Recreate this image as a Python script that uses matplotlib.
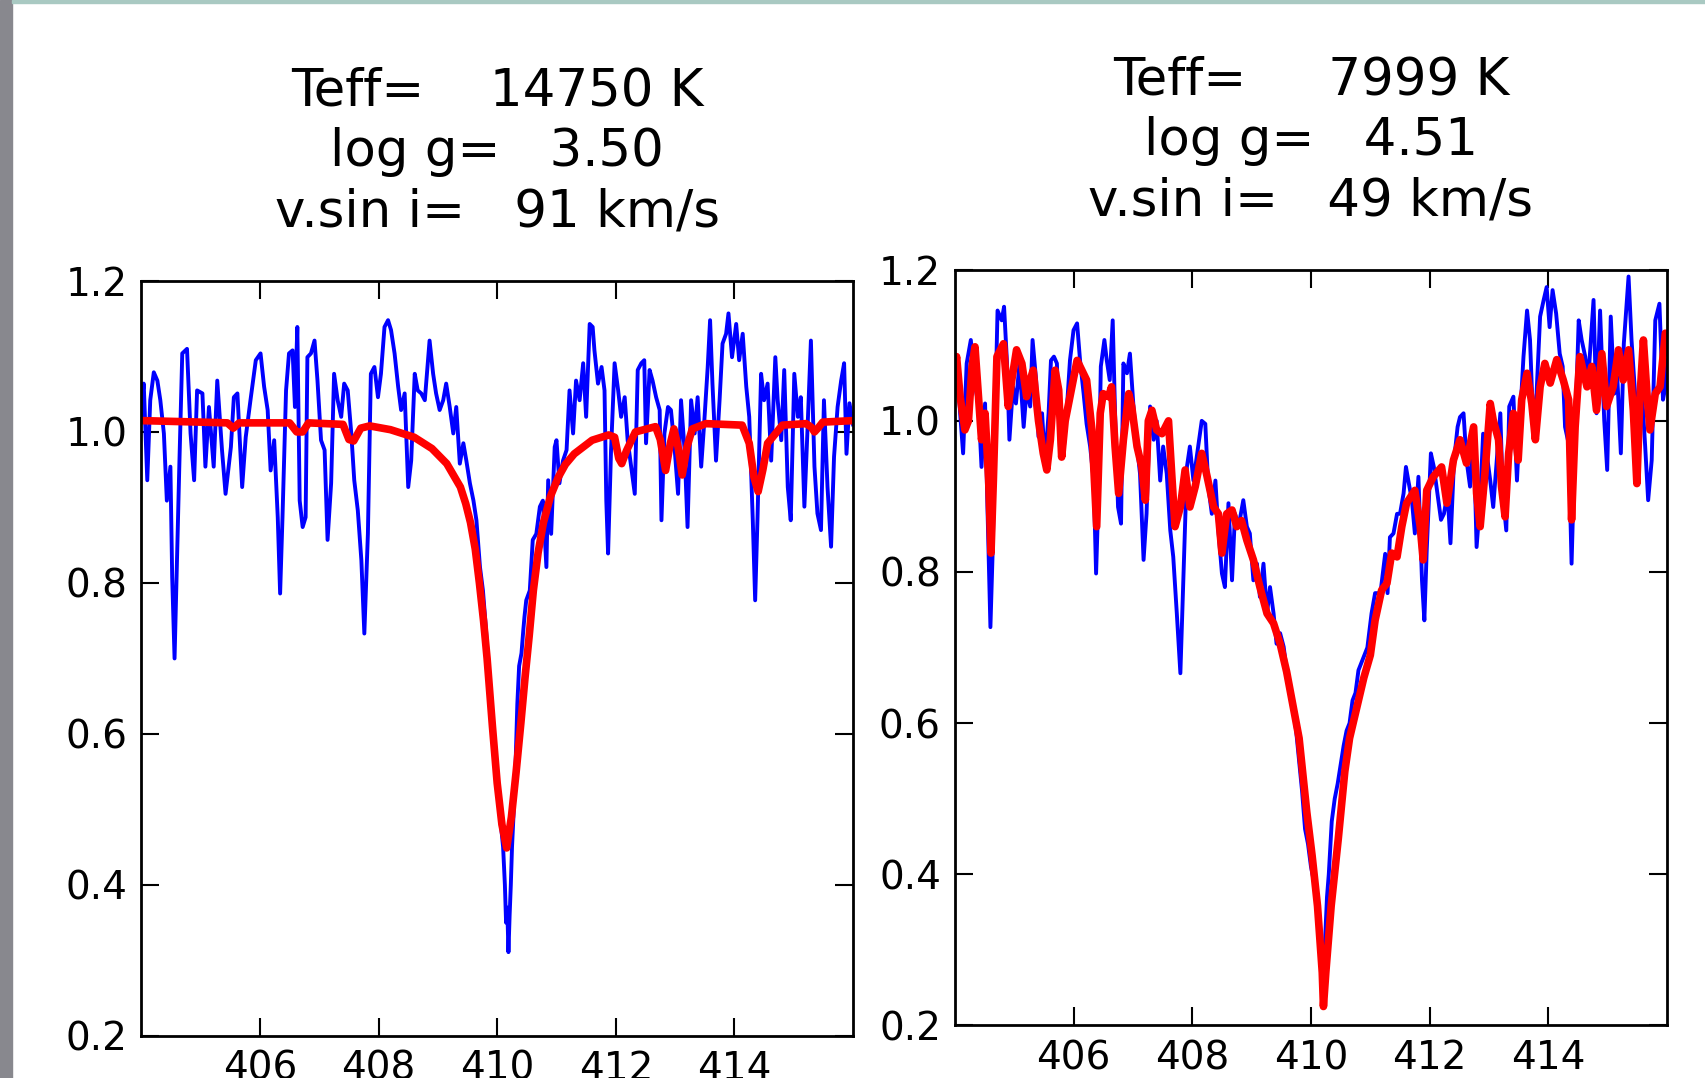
import matplotlib
matplotlib.use("Agg")
import matplotlib.pyplot as plt
from matplotlib.patches import Rectangle
from matplotlib.ticker import FormatStrFormatter

# left star: observed spectrum (wavelength nm, normalised flux)
obs_left = [
    (404.00, 1.020), (404.01, 1.042), (404.04, 1.064), (404.10, 0.936), (404.15, 1.042),
    (404.21, 1.079), (404.27, 1.068), (404.32, 1.042), (404.38, 0.998), (404.43, 0.909),
    (404.49, 0.954), (404.52, 0.808), (404.56, 0.700), (404.60, 0.830), (404.64, 0.954),
    (404.69, 1.104), (404.77, 1.110), (404.83, 0.998), (404.89, 0.936), (404.94, 1.055),
    (405.03, 1.051), (405.08, 0.954), (405.14, 1.033), (405.22, 0.954), (405.28, 1.068),
    (405.36, 0.976), (405.42, 0.918), (405.51, 0.980), (405.56, 1.046), (405.62, 1.051),
    (405.70, 0.927), (405.76, 0.993), (405.84, 1.042), (405.93, 1.095), (406.01, 1.104),
    (406.07, 1.060), (406.13, 1.029), (406.18, 0.949), (406.24, 0.989), (406.30, 0.887),
    (406.34, 0.786), (406.38, 0.887), (406.44, 1.055), (406.49, 1.104), (406.55, 1.108),
    (406.59, 1.033), (406.63, 1.139), (406.67, 0.909), (406.72, 0.874), (406.77, 0.887),
    (406.80, 1.099), (406.86, 1.104), (406.92, 1.121), (406.97, 1.068), (407.03, 0.989),
    (407.09, 0.976), (407.14, 0.857), (407.20, 0.932), (407.25, 1.077), (407.31, 1.042),
    (407.37, 1.020), (407.42, 1.064), (407.48, 1.055), (407.54, 0.998), (407.59, 0.936),
    (407.65, 0.896), (407.71, 0.830), (407.76, 0.733), (407.82, 0.865), (407.87, 1.077),
    (407.93, 1.086), (407.99, 1.046), (408.04, 1.077), (408.10, 1.139), (408.16, 1.148),
    (408.21, 1.135), (408.27, 1.104), (408.33, 1.060), (408.38, 1.029), (408.44, 1.051),
    (408.50, 0.927), (408.55, 0.962), (408.61, 1.077), (408.66, 1.055), (408.72, 1.051),
    (408.78, 1.042), (408.86, 1.121), (408.92, 1.077), (408.97, 1.051), (409.03, 1.029),
    (409.09, 1.042), (409.14, 1.064), (409.20, 1.033), (409.26, 0.998), (409.31, 1.033),
    (409.37, 0.958), (409.43, 0.985), (409.48, 0.962), (409.54, 0.932), (409.60, 0.909),
    (409.65, 0.883), (409.71, 0.821), (409.76, 0.790), (409.81, 0.740), (409.86, 0.680),
    (409.90, 0.620), (409.95, 0.570), (410.00, 0.530), (410.05, 0.490), (410.10, 0.450),
    (410.13, 0.400), (410.15, 0.350), (410.17, 0.370), (410.19, 0.311), (410.21, 0.360),
    (410.23, 0.400), (410.25, 0.450), (410.28, 0.500), (410.31, 0.560), (410.34, 0.640),
    (410.37, 0.690), (410.41, 0.707), (410.44, 0.737), (410.46, 0.755), (410.49, 0.777),
    (410.55, 0.790), (410.60, 0.857), (410.66, 0.865), (410.72, 0.901), (410.77, 0.909),
    (410.83, 0.821), (410.86, 0.936), (410.91, 0.865), (410.97, 0.980), (411.00, 0.989),
    (411.05, 0.932), (411.11, 0.962), (411.17, 0.976), (411.22, 1.055), (411.28, 0.998),
    (411.33, 1.068), (411.39, 1.042), (411.45, 1.091), (411.50, 1.020), (411.56, 1.143),
    (411.61, 1.139), (411.64, 1.108), (411.70, 1.064), (411.76, 1.086), (411.81, 1.055),
    (411.84, 0.909), (411.87, 0.839), (411.92, 0.976), (411.98, 1.091), (412.04, 1.055),
    (412.09, 1.020), (412.15, 1.046), (412.20, 0.989), (412.26, 0.954), (412.32, 0.918),
    (412.37, 1.082), (412.43, 1.091), (412.48, 1.095), (412.51, 0.985), (412.57, 1.082),
    (412.62, 1.068), (412.68, 1.046), (412.74, 1.029), (412.77, 0.883), (412.82, 0.998),
    (412.88, 1.033), (412.93, 1.029), (412.99, 0.980), (413.05, 0.918), (413.10, 1.042),
    (413.16, 0.976), (413.21, 0.874), (413.27, 1.042), (413.33, 0.998), (413.38, 1.046),
    (413.44, 0.954), (413.49, 1.011), (413.55, 1.086), (413.59, 1.148), (413.63, 1.064),
    (413.69, 0.962), (413.75, 1.042), (413.80, 1.117), (413.86, 1.130), (413.90, 1.157),
    (413.96, 1.099), (414.03, 1.143), (414.08, 1.095), (414.14, 1.130), (414.20, 1.060),
    (414.25, 1.020), (414.31, 0.883), (414.35, 0.777), (414.39, 0.887), (414.45, 1.077),
    (414.50, 1.042), (414.56, 1.064), (414.62, 0.962), (414.69, 1.099), (414.73, 1.042),
    (414.79, 0.989), (414.84, 1.082), (414.90, 0.927), (414.95, 0.883), (415.01, 1.077),
    (415.07, 1.020), (415.12, 1.046), (415.18, 0.901), (415.23, 0.998), (415.29, 1.121),
    (415.35, 0.954), (415.40, 0.892), (415.46, 0.870), (415.51, 1.042), (415.57, 0.927),
    (415.63, 0.848), (415.68, 0.967), (415.74, 1.033), (415.80, 1.068), (415.85, 1.091),
    (415.89, 0.971), (415.94, 1.038), (416.00, 1.010),
]

# left star: model fit
fit_left = [
    (404.00, 1.015), (404.50, 1.014), (405.00, 1.013), (405.45, 1.012), (405.55, 1.005),
    (405.65, 1.012), (406.50, 1.012), (406.62, 1.000), (406.72, 1.000), (406.82, 1.012),
    (407.40, 1.010), (407.50, 0.990), (407.58, 0.988), (407.70, 1.005), (407.85, 1.008),
    (408.20, 1.003), (408.60, 0.993), (408.90, 0.978), (409.15, 0.958), (409.38, 0.927),
    (409.47, 0.905), (409.55, 0.880), (409.63, 0.845), (409.70, 0.800), (409.77, 0.750),
    (409.83, 0.700), (409.92, 0.610), (410.00, 0.535), (410.08, 0.480), (410.16, 0.449),
    (410.24, 0.490), (410.32, 0.550), (410.40, 0.615), (410.47, 0.675), (410.54, 0.730),
    (410.61, 0.790), (410.69, 0.840), (410.78, 0.880), (410.90, 0.915), (411.03, 0.940),
    (411.15, 0.957), (411.30, 0.971), (411.60, 0.989), (411.88, 0.996),
    (411.98, 0.993), (412.05, 0.965), (412.10, 0.958), (412.18, 0.975), (412.33, 1.000),
    (412.67, 1.007), (412.75, 0.990), (412.84, 0.949), (412.92, 0.985), (412.98, 1.004),
    (413.05, 0.980), (413.12, 0.943), (413.20, 0.980), (413.29, 1.004), (413.52, 1.011),
    (414.13, 1.009), (414.25, 0.985), (414.33, 0.940), (414.40, 0.921), (414.48, 0.950),
    (414.56, 0.985), (414.81, 1.009), (415.21, 1.011), (415.30, 1.006), (415.35, 1.000),
    (415.42, 1.006), (415.49, 1.013), (416.00, 1.015),
]

# right star: observed spectrum
obs_right = [
    (404.00, 1.060), (404.03, 1.085), (404.09, 1.010), (404.14, 0.957), (404.20, 1.076),
    (404.27, 1.107), (404.33, 1.054), (404.40, 1.019), (404.45, 0.939), (404.51, 1.023),
    (404.55, 0.886), (404.60, 0.727), (404.64, 0.833), (404.68, 1.010), (404.72, 1.146),
    (404.79, 1.133), (404.83, 1.151), (404.88, 1.076), (404.92, 0.975), (404.98, 1.045),
    (405.03, 1.023), (405.09, 1.076), (405.16, 0.992), (405.21, 1.041), (405.27, 1.019),
    (405.31, 1.107), (405.37, 1.054), (405.41, 0.979), (405.47, 1.010), (405.52, 0.944),
    (405.58, 1.010), (405.62, 1.080), (405.67, 1.085), (405.72, 1.076), (405.77, 0.966),
    (405.83, 0.957), (405.89, 1.019), (405.94, 1.080), (406.00, 1.120), (406.06, 1.129),
    (406.11, 1.080), (406.17, 1.036), (406.22, 0.996), (406.28, 0.966), (406.34, 0.921),
    (406.38, 0.798), (406.42, 0.900), (406.46, 1.072), (406.52, 1.107), (406.56, 1.080),
    (406.61, 1.054), (406.66, 1.133), (406.70, 1.010), (406.75, 0.886), (406.80, 0.864),
    (406.84, 1.076), (406.90, 1.063), (406.95, 1.089), (407.01, 1.019), (407.07, 0.966),
    (407.12, 0.930), (407.18, 0.816), (407.23, 0.877), (407.29, 1.019), (407.35, 0.975),
    (407.40, 1.000), (407.46, 0.921), (407.51, 0.966), (407.57, 0.930), (407.63, 0.855),
    (407.68, 0.820), (407.74, 0.745), (407.80, 0.666), (407.85, 0.789), (407.91, 0.939),
    (407.96, 0.966), (408.02, 0.921), (408.10, 0.966), (408.16, 1.000), (408.22, 0.996),
    (408.27, 0.913), (408.33, 0.877), (408.39, 0.921), (408.44, 0.855), (408.50, 0.798),
    (408.55, 0.780), (408.61, 0.891), (408.67, 0.789), (408.72, 0.877), (408.78, 0.860),
    (408.86, 0.895), (408.92, 0.860), (408.97, 0.851), (409.03, 0.789), (409.09, 0.811),
    (409.14, 0.767), (409.20, 0.811), (409.26, 0.745), (409.31, 0.780), (409.37, 0.745),
    (409.42, 0.705), (409.48, 0.719), (409.54, 0.701), (409.59, 0.670), (409.65, 0.648),
    (409.70, 0.620), (409.75, 0.590), (409.80, 0.550), (409.85, 0.510), (409.90, 0.460),
    (409.95, 0.440), (410.00, 0.410), (410.05, 0.390), (410.10, 0.360), (410.15, 0.310),
    (410.19, 0.260), (410.23, 0.300), (410.27, 0.370), (410.30, 0.400), (410.35, 0.470),
    (410.40, 0.500), (410.45, 0.520), (410.50, 0.545), (410.55, 0.570), (410.60, 0.590),
    (410.65, 0.600), (410.70, 0.630), (410.75, 0.640), (410.80, 0.670), (410.85, 0.680),
    (410.90, 0.690), (410.95, 0.700), (411.02, 0.745), (411.08, 0.772), (411.17, 0.772),
    (411.25, 0.824), (411.29, 0.772), (411.33, 0.846), (411.39, 0.851), (411.45, 0.877),
    (411.50, 0.877), (411.56, 0.904), (411.60, 0.939), (411.64, 0.921), (411.70, 0.895),
    (411.75, 0.851), (411.81, 0.926), (411.87, 0.789), (411.91, 0.736), (411.95, 0.829),
    (412.02, 0.957), (412.07, 0.939), (412.13, 0.904), (412.19, 0.869), (412.24, 0.877),
    (412.30, 0.904), (412.35, 0.838), (412.41, 0.948), (412.47, 0.992), (412.51, 1.005),
    (412.57, 1.010), (412.62, 0.948), (412.68, 0.913), (412.74, 0.983), (412.79, 0.833),
    (412.85, 0.895), (412.90, 0.983), (412.96, 0.957), (413.02, 0.921), (413.07, 0.886),
    (413.13, 0.948), (413.19, 1.010), (413.23, 0.904), (413.29, 0.855), (413.34, 1.019),
    (413.41, 1.032), (413.47, 0.921), (413.52, 1.001), (413.58, 1.085), (413.64, 1.146),
    (413.69, 1.107), (413.75, 0.983), (413.80, 1.036), (413.86, 1.138), (413.92, 1.160),
    (413.97, 1.177), (414.02, 1.124), (414.07, 1.173), (414.13, 1.142), (414.19, 1.089),
    (414.24, 1.072), (414.28, 0.992), (414.34, 0.970), (414.39, 0.811), (414.45, 0.983),
    (414.51, 1.133), (414.56, 1.107), (414.62, 1.085), (414.67, 1.054), (414.76, 1.160),
    (414.81, 1.010), (414.87, 1.146), (414.94, 1.001), (414.99, 0.935), (415.05, 1.138),
    (415.11, 1.036), (415.16, 1.058), (415.22, 0.957), (415.27, 1.102), (415.35, 1.191),
    (415.40, 1.107), (415.46, 1.036), (415.52, 0.992), (415.57, 1.045), (415.63, 0.966),
    (415.68, 0.895), (415.74, 0.948), (415.80, 1.133), (415.87, 1.155), (415.93, 1.028),
    (415.97, 1.045), (416.00, 1.080),
]

# right star: model fit
fit_right = [
    (404.00, 1.070), (404.03, 1.085), (404.09, 1.032), (404.17, 0.988), (404.23, 1.000),
    (404.29, 1.072), (404.34, 1.098), (404.40, 1.032), (404.45, 0.975), (404.51, 1.010),
    (404.57, 0.922), (404.61, 0.825), (404.65, 0.922), (404.71, 1.085), (404.82, 1.102),
    (404.90, 1.019), (404.96, 1.054), (405.04, 1.094), (405.13, 1.076), (405.21, 1.032),
    (405.27, 1.054), (405.32, 1.067), (405.41, 1.000), (405.49, 0.957), (405.55, 0.935),
    (405.61, 0.975), (405.69, 1.067), (405.75, 1.041), (405.80, 0.952), (405.86, 1.000),
    (405.94, 1.032), (406.06, 1.080), (406.14, 1.067), (406.22, 1.054), (406.31, 0.988),
    (406.39, 0.860), (406.45, 1.010), (406.50, 1.036), (406.59, 1.032), (406.64, 1.045),
    (406.70, 0.966), (406.76, 0.904), (406.84, 0.975), (406.93, 1.036), (406.98, 1.019),
    (407.07, 0.966), (407.15, 0.939), (407.21, 0.895), (407.26, 1.000), (407.32, 1.014),
    (407.40, 0.988), (407.49, 0.983), (407.60, 1.000), (407.66, 0.922), (407.71, 0.860),
    (407.80, 0.886), (407.88, 0.935), (407.96, 0.886), (408.05, 0.913), (408.16, 0.957),
    (408.24, 0.930), (408.36, 0.886), (408.44, 0.877), (408.50, 0.825), (408.58, 0.877),
    (408.67, 0.882), (408.75, 0.860), (408.83, 0.868), (408.92, 0.842), (409.03, 0.816),
    (409.14, 0.780), (409.26, 0.745), (409.37, 0.732), (409.48, 0.705), (409.59, 0.668),
    (409.68, 0.630), (409.80, 0.580), (409.93, 0.482), (410.02, 0.424), (410.11, 0.358),
    (410.19, 0.270), (410.21, 0.225), (410.25, 0.270), (410.34, 0.358), (410.46, 0.447),
    (410.57, 0.536), (410.65, 0.580), (410.71, 0.600), (410.89, 0.660), (411.00, 0.690),
    (411.08, 0.736), (411.19, 0.776), (411.28, 0.785), (411.36, 0.825), (411.45, 0.820),
    (411.53, 0.860), (411.61, 0.891), (411.75, 0.908), (411.84, 0.860), (411.89, 0.816),
    (411.95, 0.908), (412.06, 0.926), (412.20, 0.939), (412.29, 0.891), (412.40, 0.948),
    (412.51, 0.975), (412.62, 0.944), (412.74, 0.992), (412.79, 0.904), (412.85, 0.860),
    (412.93, 0.930), (413.02, 1.023), (413.07, 1.001), (413.16, 0.975), (413.21, 0.913),
    (413.27, 0.873), (413.33, 0.957), (413.41, 1.010), (413.49, 0.948), (413.55, 1.028),
    (413.64, 1.063), (413.72, 1.023), (413.78, 0.975), (413.86, 1.045), (413.94, 1.076),
    (414.03, 1.050), (414.14, 1.081), (414.25, 1.054), (414.34, 1.028), (414.39, 0.869),
    (414.45, 0.992), (414.53, 1.085), (414.65, 1.045), (414.73, 1.072), (414.81, 1.014),
    (414.90, 1.089), (414.98, 1.019), (415.09, 1.045), (415.18, 1.094), (415.26, 1.054),
    (415.35, 1.094), (415.43, 1.014), (415.49, 0.917), (415.54, 1.028), (415.60, 1.107),
    (415.66, 1.036), (415.71, 0.988), (415.80, 1.036), (415.88, 1.045), (415.97, 1.116),
    (416.00, 1.110),
]

titles = [
    "Teff=    14750 K\nlog g=   3.50\nv.sin i=   91 km/s",
    "Teff=     7999 K\nlog g=   4.51\nv.sin i=   49 km/s",
]

x_ticks = [406, 408, 410, 412, 414]
y_ticks = [0.2, 0.4, 0.6, 0.8, 1.0, 1.2]

fig = plt.figure(figsize=(17.05, 10.78), dpi=100)
ax1 = fig.add_axes([0.0829, 0.039, 0.4174, 0.7004])
ax2 = fig.add_axes([0.560, 0.0488, 0.4178, 0.701])

for ax, obs, fit, title in [(ax1, obs_left, fit_left, titles[0]),
                            (ax2, obs_right, fit_right, titles[1])]:
    w, f = zip(*obs)
    ax.plot(w, f, color="b", lw=2.8)
    w, f = zip(*fit)
    ax.plot(w, f, color="r", lw=5.5, solid_joinstyle="round")
    ax.set_xlim(404, 416)
    ax.set_ylim(0.2, 1.2)
    ax.set_xticks(x_ticks)
    ax.set_yticks(y_ticks)
    ax.yaxis.set_major_formatter(FormatStrFormatter("%.1f"))
    ax.tick_params(direction="in", top=True, right=True, length=13, width=1.5,
                   labelsize=28, pad=10)
    for s in ax.spines.values():
        s.set_linewidth(2)
    ax.text(0.5, 1.057, title, transform=ax.transAxes, ha="center", va="bottom",
            fontsize=37, linespacing=1.27, multialignment="center")

# bits of the screenshot frame
fig.patches.append(Rectangle((0, 0), 12 / 1705, 1, transform=fig.transFigure,
                             color="#88888e", zorder=0))
fig.patches.append(Rectangle((12 / 1705, 1 - 3 / 1078), 1, 3 / 1078, transform=fig.transFigure,
                             color="#a9c9c2", zorder=0))

fig.savefig("out.png", dpi=100)
